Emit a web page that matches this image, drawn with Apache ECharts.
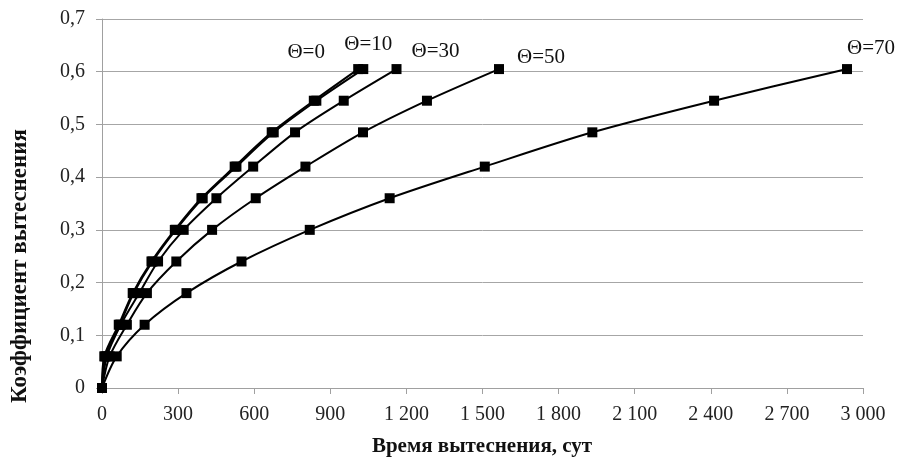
<!DOCTYPE html>
<html>
<head>
<meta charset="utf-8">
<script src="https://cdn.jsdelivr.net/npm/echarts@6/dist/echarts.min.js"></script>
<style>html,body{margin:0;padding:0;background:#fff}#c{width:899px;height:461px}</style>
</head>
<body>
<div id="c"></div>
<script>
// Shared y values (coefficient)
var yValues = [0, 0.06, 0.12, 0.18, 0.24, 0.30, 0.36, 0.42, 0.485, 0.545, 0.605];
// x values (days) per series
var theta0  = [0, 9, 66, 121, 195, 287, 392, 523, 669, 835, 1010];
var theta10 = [0, 13, 70, 125, 199, 291, 397, 530, 677, 845, 1030];
var theta30 = [0, 19, 74, 147, 221, 322, 451, 596, 761, 953, 1161];
var theta50 = [0, 30, 98, 177, 293, 434, 606, 802, 1029, 1281, 1565];
var theta70 = [0, 58, 168, 333, 550, 819, 1134, 1509, 1933, 2413, 2937];
var seriesNames = ['Θ=0', 'Θ=10', 'Θ=30', 'Θ=50', 'Θ=70'];
var seriesX = [theta0, theta10, theta30, theta50, theta70];
var labelOffsets = [[-52, -17], [5, -25], [39, -18], [42, -12], [24, -21]];

var FONT = '"Liberation Serif", "Times New Roman", serif';

function fmtX(v) {
  var s = String(Math.round(v));
  return s.replace(/\B(?=(\d{3})+(?!\d))/g, ' ');
}
function fmtY(v) {
  if (Math.abs(v) < 1e-9) return '0';
  return v.toFixed(1).replace('.', ',');
}

var series = seriesX.map(function (xs, si) {
  var data = xs.map(function (x, i) {
    var item = { value: [x, yValues[i]] };
    if (i === xs.length - 1) {
      item.label = {
        show: true,
        formatter: seriesNames[si],
        position: 'inside',
        offset: labelOffsets[si],
        color: '#111',
        fontFamily: FONT,
        fontSize: 21
      };
    }
    return item;
  });
  return {
    name: seriesNames[si],
    type: 'line',
    data: data,
    smooth: 0.3,
    symbol: 'rect',
    symbolSize: 10,
    showAllSymbol: true,
    lineStyle: { color: '#000', width: 2 },
    itemStyle: { color: '#000' },
    label: { show: false },
    animation: false,
    z: 3
  };
});

var chart = echarts.init(document.getElementById('c'), null, { renderer: 'canvas' });
chart.setOption({
  backgroundColor: '#fff',
  animation: false,
  grid: { left: 102, right: 36, top: 19, bottom: 73, containLabel: false },
  xAxis: {
    type: 'value', min: 0, max: 3000, interval: 300,
    axisLine: { show: true, lineStyle: { color: '#a0a0a0', width: 1 } },
    axisTick: { show: true, length: 6, lineStyle: { color: '#a0a0a0' } },
    splitLine: { show: false },
    axisLabel: { formatter: fmtX, color: '#222', fontFamily: FONT, fontSize: 20, margin: 17 }
  },
  yAxis: {
    type: 'value', min: 0, max: 0.7, interval: 0.1,
    axisLine: { show: true, lineStyle: { color: '#a0a0a0', width: 1 } },
    axisTick: { show: true, length: 6, lineStyle: { color: '#a0a0a0' } },
    splitLine: { show: true, lineStyle: { color: '#a6a6a6', width: 1 } },
    axisLabel: { formatter: fmtY, color: '#222', fontFamily: FONT, fontSize: 20, margin: 17 }
  },
  graphic: [
    {
      type: 'text', position: [482, 447],
      style: { text: 'Время вытеснения, сут', font: 'bold 21px ' + FONT, fill: '#111',
               textAlign: 'center', textVerticalAlign: 'middle' }
    },
    {
      type: 'text', rotation: Math.PI / 2, position: [20, 266],
      style: { text: 'Коэффициент вытеснения', font: 'bold 23px ' + FONT, fill: '#111',
               textAlign: 'center', textVerticalAlign: 'middle' }
    }
  ],
  series: series
});
</script>
</body>
</html>
